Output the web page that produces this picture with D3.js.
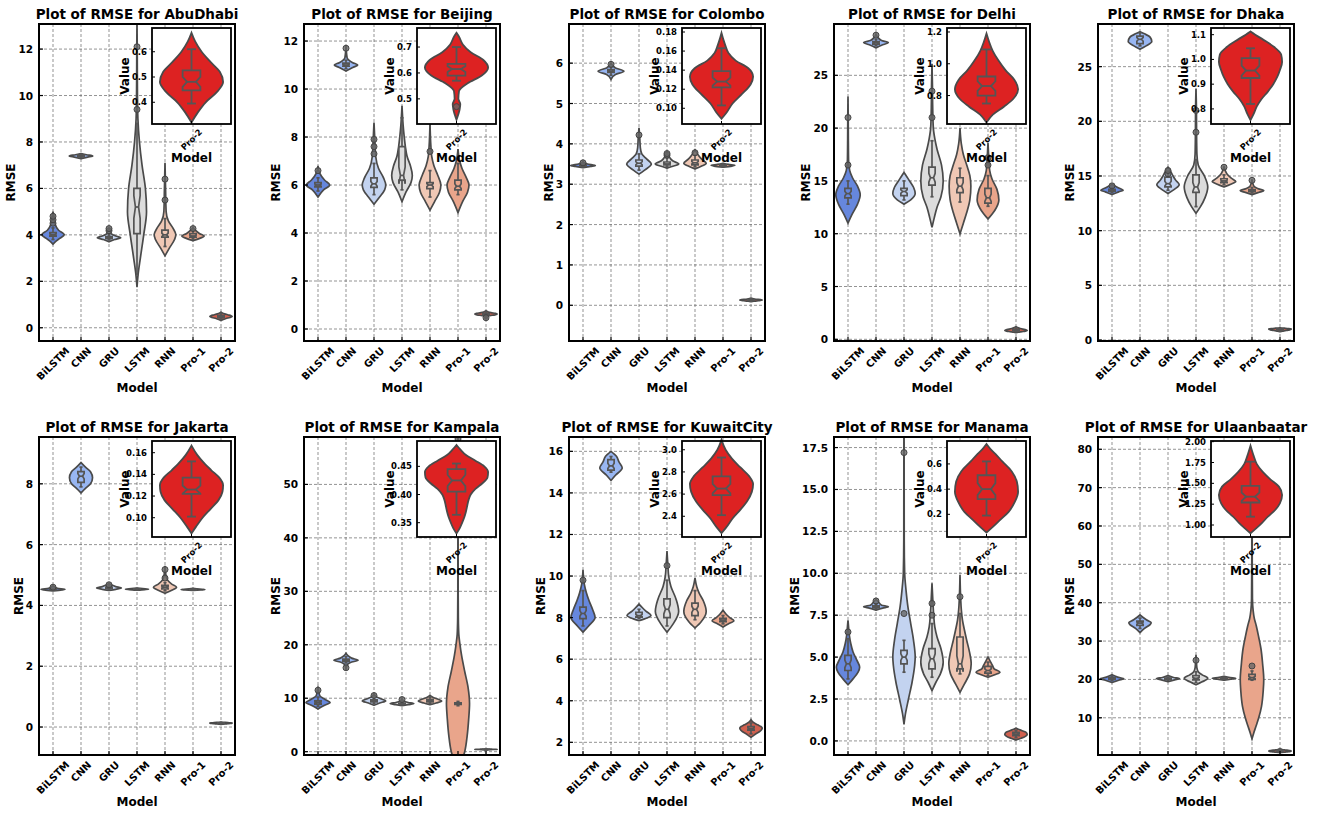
<!DOCTYPE html>
<html>
<head>
<meta charset="utf-8">
<script src="https://cdn.jsdelivr.net/npm/d3@7"></script>
<style>
  body { margin: 0; background: #fff; }
  text { font-family: "DejaVu Sans", sans-serif; font-weight: bold; fill: #000; }
</style>
</head>
<body>
<svg id="chart"></svg>
<script>
// values: d = [value, relative density], box = [lo, q1, med, q3, hi]
const models = ["BiLSTM", "CNN", "GRU", "LSTM", "RNN", "Pro-1", "Pro-2"];
const cities = ["AbuDhabi", "Beijing", "Colombo", "Delhi", "Dhaka",
                "Jakarta", "Kampala", "KuwaitCity", "Manama", "Ulaanbaatar"];
const colors = ["#6687dd", "#98b6f2", "#c3d3f0", "#dcdcdc", "#f0c8b5", "#e9a58b", "#d0604f"];

const yLimits = [[-0.57, 13.08], [-0.5, 12.71], [-0.885, 6.97], [-0.16, 29.86], [-0.09, 28.9],
                 [-0.92, 9.54], [-0.62, 58.87], [1.39, 16.69], [-0.84, 18.13], [0.3, 83.2]];
const yTickSteps = [2, 2, 1, 5, 5, 2, 10, 2, 2.5, 10];
const yFormats = ["d", "d", "d", "d", "d", "d", "d", "d", ".1f", "d"];

const insetLimits = [[0.314, 0.694], [0.403, 0.7735], [0.0835, 0.1842], [0.621, 1.225], [0.739, 1.127],
                     [0.0822, 0.1708], [0.3246, 0.495], [2.213, 3.079], [0.02, 0.782], [0.856, 2.008]];
const insetSteps = [0.1, 0.1, 0.02, 0.2, 0.1, 0.02, 0.05, 0.2, 0.2, 0.25];
const insetFormats = [".1f", ".1f", ".2f", ".1f", ".1f", ".2f", ".2f", ".1f", ".1f", ".2f"];

const abuDhabi = [
  {d: [[3.6,0],[3.7,.2],[3.85,.6],[4.0,1.0],[4.2,.5],[4.45,.2],[4.7,.12],[5.0,0]], box: [3.8,3.95,4.0,4.1,4.3], out: [4.5,4.65,4.8]},
  {d: [[7.28,0],[7.35,.6],[7.4,1.05],[7.45,.5],[7.5,0]], box: [7.33,7.37,7.4,7.43,7.47], out: []},
  {d: [[3.7,0],[3.8,.5],[3.88,1.05],[3.95,.6],[4.05,.2],[4.3,0]], box: [3.78,3.84,3.88,3.93,4.0], out: [4.18,4.27]},
  {d: [[1.75,0],[2.3,.1],[3,.3],[4,.6],[5,.85],[6,.75],[7,.45],[8,.22],[9,.08],[10,.04],[12,.02],[13.3,0]], box: [2.3,4.05,5.2,6.0,8.8], out: [9.4,12.1]},
  {d: [[3.1,0],[3.4,.35],[3.8,.85],[4.0,.97],[4.3,.7],[4.6,.3],[5,.1],[6,.05],[7.1,0]], box: [3.5,3.9,4.0,4.2,4.7], out: [5.5,6.4]},
  {d: [[3.75,0],[3.85,.6],[3.95,1.0],[4.05,.6],[4.2,.2],[4.32,0]], box: [3.82,3.9,3.95,4.05,4.2], out: [4.27]}
];
const beijing = [
  {d: [[5.5,0],[5.8,.5],[6.0,1.05],[6.2,.6],[6.5,.15],[6.8,0]], box: [5.75,5.92,6.0,6.1,6.3], out: [6.6]},
  {d: [[10.75,0],[10.9,.6],[11.0,1.05],[11.1,.6],[11.3,.1],[11.8,0]], box: [10.85,10.95,11.0,11.08,11.2], out: [11.7]},
  {d: [[5.2,0],[5.5,.5],[5.8,.95],[6.0,1.05],[6.3,.85],[6.7,.4],[7.2,.15],[7.8,.08],[8.6,0]], box: [5.6,5.9,6.05,6.3,6.9], out: [7.3,7.6,7.9]},
  {d: [[5.3,0],[5.7,.35],[6.1,.8],[6.4,.92],[6.8,.75],[7.2,.45],[7.6,.3],[8,.2],[8.5,.1],[9.3,0]], box: [5.8,6.2,6.4,7.6,8.8], out: []},
  {d: [[4.95,0],[5.3,.4],[5.7,.85],[6.0,.97],[6.4,.7],[6.8,.35],[7.2,.15],[7.6,.08],[8.6,0]], box: [5.5,5.85,6.0,6.1,6.6], out: [7.4]},
  {d: [[4.85,0],[5.3,.4],[5.7,.85],[6.0,.98],[6.3,.75],[6.7,.35],[7.0,.15],[7.5,0]], box: [5.6,5.8,5.95,6.2,6.9], out: []}
];
const colombo = [
  {d: [[3.41,0],[3.44,.7],[3.46,1.1],[3.5,.4],[3.56,0]], box: [3.43,3.45,3.46,3.48,3.5], out: [3.53]},
  {d: [[5.6,0],[5.72,.4],[5.8,1.15],[5.88,.4],[6.0,0]], box: [5.7,5.77,5.8,5.84,5.9], out: [5.97]},
  {d: [[3.25,0],[3.35,.5],[3.5,1.1],[3.62,.7],[3.75,.25],[3.9,.12],[4.2,.06],[4.4,0]], box: [3.35,3.45,3.52,3.6,3.75], out: [4.22]},
  {d: [[3.4,0],[3.45,.6],[3.5,1.05],[3.58,.5],[3.7,.15],[3.82,0]], box: [3.44,3.48,3.5,3.55,3.65], out: [3.72,3.76]},
  {d: [[3.38,0],[3.45,.6],[3.52,1],[3.62,.6],[3.72,.3],[3.85,0]], box: [3.43,3.48,3.53,3.6,3.72], out: [3.78]},
  {d: [[3.42,0],[3.45,.8],[3.47,1.07],[3.49,.5],[3.52,0]], box: [3.44,3.455,3.465,3.48,3.5], out: []}
];
const delhi = [
  {d: [[11,0],[11.8,.35],[12.8,.85],[13.7,1.09],[14.5,.85],[15.3,.4],[16,.15],[17,.05],[19,.03],[21,.02],[23,0]], box: [12.8,13.4,13.8,14.3,15.0], out: [16.5,21]},
  {d: [[27.6,0],[27.85,.5],[28.1,1.1],[28.3,.5],[28.6,.15],[28.9,0]], box: [27.8,27.95,28.1,28.2,28.4], out: [28.8]},
  {d: [[12.8,0],[13.2,.6],[13.8,1.0],[14.4,.85],[15,.5],[15.4,.25],[15.8,0]], box: [13.2,13.6,14.0,14.3,15.0], out: []},
  {d: [[10.6,0],[11.5,.2],[12.5,.45],[13.5,.8],[15,1.0],[16.5,.85],[18,.45],[19,.25],[20,.12],[22,.06],[24,.04],[26.1,0]], box: [13.5,14.6,15.3,16.3,18.8], out: [21,23.5]},
  {d: [[10,0],[11,.3],[12,.6],[13.2,.88],[14.5,.97],[15.5,.88],[16.5,.6],[17.5,.3],[18.5,.12],[20,0]], box: [13.0,13.9,14.5,15.3,16.2], out: []},
  {d: [[11.4,0],[12.2,.6],[13.2,.97],[14.2,.8],[15.2,.35],[16,.15],[17,.08],[18.6,0]], box: [12.6,12.9,13.4,14.3,15.5], out: [16.5,17.2]}
];
const dhaka = [
  {d: [[13.3,0],[13.55,.6],[13.7,1.0],[13.9,.6],[14.25,0]], box: [13.5,13.62,13.7,13.78,13.95], out: [14.1]},
  {d: [[26.6,0],[26.9,.55],[27.3,1.05],[27.7,.9],[28.0,.4],[28.2,0]], box: [26.9,27.1,27.5,27.8,28.1], out: []},
  {d: [[13.4,0],[13.8,.6],[14.2,1.0],[14.6,.7],[15.0,.45],[15.4,.25],[15.8,0]], box: [13.7,14.0,14.3,14.9,15.4], out: [15.2,15.5]},
  {d: [[11.6,0],[12.2,.4],[13,.8],[14,1.05],[15,.75],[16,.2],[17,.08],[19,.05],[21,.04],[23,0]], box: [12.2,13.5,14.0,15.1,16.5], out: [19,21]},
  {d: [[14.0,0],[14.25,.6],[14.5,1.05],[14.8,.65],[15.2,.25],[15.9,0]], box: [14.2,14.4,14.55,14.75,15.1], out: [15.8]},
  {d: [[13.3,0],[13.5,.6],[13.65,1.05],[13.85,.5],[14.1,.15],[14.7,0]], box: [13.45,13.57,13.65,13.75,13.95], out: [14.6]}
];
const jakarta = [
  {d: [[4.48,0],[4.51,.8],[4.53,1.08],[4.56,.4],[4.62,.1],[4.65,0]], box: [4.5,4.515,4.525,4.54,4.56], out: [4.6]},
  {d: [[7.7,0],[7.85,.4],[8.0,.85],[8.2,1.03],[8.4,.85],[8.55,.4],[8.7,0]], box: [7.9,8.05,8.25,8.4,8.55], out: []},
  {d: [[4.49,0],[4.53,.6],[4.57,1.1],[4.62,.6],[4.67,.25],[4.72,0]], box: [4.52,4.55,4.57,4.6,4.64], out: [4.68]},
  {d: [[4.5,0],[4.52,.7],[4.535,1.03],[4.55,.5],[4.57,0]], box: [4.515,4.525,4.535,4.545,4.555], out: []},
  {d: [[4.4,0],[4.5,.6],[4.6,1.03],[4.7,.6],[4.85,.2],[5.0,.08],[5.3,0]], box: [4.48,4.54,4.6,4.66,4.75], out: [4.9,5.18]},
  {d: [[4.49,0],[4.51,.7],[4.52,1.07],[4.535,.6],[4.56,0]], box: [4.505,4.513,4.52,4.528,4.54], out: []}
];
const kampala = [
  {d: [[8.0,0],[8.6,.5],[9.2,1.08],[9.8,.6],[10.5,.15],[11.5,.06],[12,0]], box: [8.5,8.9,9.2,9.5,10.2], out: [11.5]},
  {d: [[15.3,0],[16.2,.1],[16.7,.4],[17.1,1.08],[17.5,.5],[18.0,.15],[18.4,0]], box: [16.6,16.9,17.1,17.3,17.8], out: [15.7]},
  {d: [[8.7,0],[9.1,.5],[9.5,1.05],[9.9,.6],[10.3,.2],[10.8,0]], box: [9.0,9.3,9.5,9.7,10.2], out: [10.5]},
  {d: [[8.6,0],[8.8,.55],[9.0,1.05],[9.2,.55],[9.5,.15],[9.9,0]], box: [8.75,8.9,9.0,9.1,9.4], out: [9.75]},
  {d: [[8.8,0],[9.1,.55],[9.5,1.05],[9.9,.6],[10.2,.25],[10.5,0]], box: [9.0,9.3,9.5,9.8,10.2], out: []},
  {d: [[-4,0],[-2,.3],[0,.6],[3,.82],[6,.95],[9,1.03],[12,.9],[15,.6],[18,.32],[20,.18],[22,.07],[25,.03],[30,.015],[40,.01],[50,.008],[58.7,0]], box: [8.6,8.85,9.0,9.15,9.4], out: [58.5]}
];
const kuwaitCity = [
  {d: [[7.3,0],[7.6,.5],[8.0,1.08],[8.4,.85],[8.8,.55],[9.2,.3],[9.6,.12],[10.3,0]], box: [7.6,7.95,8.2,8.5,9.3], out: [9.8]},
  {d: [[14.6,0],[14.85,.4],[15.2,1.0],[15.5,.7],[15.75,.5],[16.0,0]], box: [15.0,15.1,15.3,15.6,15.75], out: []},
  {d: [[7.85,0],[7.98,.7],[8.1,1.07],[8.3,.65],[8.45,.35],[8.65,0]], box: [7.95,8.02,8.1,8.25,8.4], out: []},
  {d: [[7.3,0],[7.7,.55],[8.3,1.04],[8.9,.8],[9.5,.35],[10,.15],[10.5,.08],[11.2,0]], box: [7.6,8.0,8.4,8.9,9.8], out: [10.5]},
  {d: [[7.5,0],[7.8,.55],[8.3,1.0],[8.8,.75],[9.2,.35],[9.5,.15],[9.9,0]], box: [7.9,8.1,8.4,8.7,9.3], out: []},
  {d: [[7.55,0],[7.7,.5],[7.85,.97],[8.0,.6],[8.15,.3],[8.35,0]], box: [7.7,7.8,7.88,7.97,8.1], out: []}
];
const manama = [
  {d: [[3.35,0],[3.7,.45],[4.1,.9],[4.4,1.04],[4.8,.8],[5.3,.45],[5.8,.25],[6.3,.12],[6.8,.05],[7.2,0]], box: [3.7,4.2,4.6,5.1,6.1], out: [6.5]},
  {d: [[7.8,0],[7.92,.6],[8.0,1.1],[8.1,.5],[8.3,.2],[8.45,0]], box: [7.88,7.95,8.0,8.06,8.15], out: [8.35]},
  {d: [[1.0,0],[1.5,.1],[2.5,.4],[3.5,.72],[4.5,.95],[5,1],[6,.85],[7,.6],[8,.35],[9,.18],[10,.06],[12,.02],[15,.015],[18,.01],[19.5,0]], box: [4.1,4.6,5.0,5.4,6.0], out: [7.6,17.2]},
  {d: [[3,0],[3.5,.35],[4,.75],[4.7,1],[5.5,.8],[6.2,.45],[6.8,.25],[7.5,.15],[8.3,.08],[9.4,0]], box: [3.8,4.3,4.9,5.5,7.0], out: [7.5,8.2]},
  {d: [[2.9,0],[3.4,.4],[4,.85],[4.6,1],[5.3,.85],[6,.6],[6.6,.4],[7.2,.22],[7.8,.12],[8.5,.06],[9.9,0]], box: [4.0,4.3,4.6,6.2,7.6], out: [8.6]},
  {d: [[3.8,0],[3.95,.6],[4.1,1.07],[4.3,.55],[4.5,.4],[4.75,.2],[5.0,0]], box: [3.9,4.05,4.2,4.45,4.7], out: []}
];
const ulaanbaatar = [
  {d: [[19.2,0],[19.8,.6],[20.2,1.05],[20.6,.5],[21.2,0]], box: [19.7,20.0,20.2,20.4,20.7], out: []},
  {d: [[32.2,0],[33.3,.4],[34.3,.9],[34.8,1],[35.5,.6],[36.2,.25],[36.8,0]], box: [33.3,34.1,34.7,35.2,36.0], out: []},
  {d: [[19.4,0],[19.9,.6],[20.2,1.03],[20.5,.5],[21,0]], box: [19.8,20.0,20.2,20.35,20.6], out: []},
  {d: [[18.6,0],[19.3,.5],[20.3,1.05],[21.2,.55],[22,.2],[23,.08],[24.5,.04],[26.4,0]], box: [19.2,19.9,20.3,21.0,22.0], out: [25]},
  {d: [[19.8,0],[20.1,.6],[20.3,1.05],[20.5,.55],[20.8,0]], box: [20.0,20.15,20.3,20.4,20.6], out: []},
  {d: [[4.5,0],[6,.15],[8,.38],[10,.6],[13,.85],[17,1.0],[20,1.05],[24,.95],[28,.8],[31,.6],[34,.38],[36,.2],[38,.1],[41,.04],[50,.02],[60,.015],[70,.01],[82.5,0]], box: [19.8,20,20.5,21.3,22.2], out: [23.5]}
];

// Pro-2 per city (shown in the main panel and zoomed in the inset)
const pro2 = [
  {d: [[.32,0],[.36,.2],[.40,.45],[.44,.8],[.48,1],[.52,.9],[.56,.6],[.60,.32],[.64,.12],[.675,0]], box: [.395,.447,.481,.526,.61], out: []},
  {d: [[.42,0],[.46,.1],[.48,.12],[.50,.06],[.53,.08],[.56,.35],[.59,.8],[.62,1],[.65,.85],[.68,.45],[.71,.2],[.74,.08],[.755,0]], box: [.57,.59,.615,.635,.70], out: [.47]},
  {d: [[.089,0],[.095,.15],[.105,.35],[.115,.65],[.125,.92],[.133,1],[.142,.85],[.150,.45],[.158,.22],[.166,.12],[.172,.06],[.179,0]], box: [.103,.122,.128,.139,.163], out: []},
  {d: [[.63,0],[.68,.2],[.73,.55],[.78,.85],[.84,1],[.90,.88],[.96,.6],[1.02,.38],[1.08,.2],[1.14,.08],[1.19,0]], box: [.75,.80,.86,.92,1.09], out: []},
  {d: [[.755,0],[.78,.1],[.81,.2],[.84,.35],[.87,.55],[.90,.72],[.93,.85],[.96,.94],[.99,1],[1.02,.97],[1.05,.75],[1.08,.4],[1.10,.15],[1.113,0]], box: [.82,.925,.955,1.005,1.045], out: []},
  {d: [[.0855,0],[.092,.15],[.10,.35],[.108,.6],[.116,.85],[.124,.98],[.130,1],[.137,.88],[.144,.62],[.151,.38],[.158,.18],[.1665,0]], box: [.101,.122,.126,.137,.152], out: []},
  {d: [[.331,0],[.34,.1],[.35,.18],[.36,.25],[.37,.3],[.38,.34],[.39,.38],[.40,.45],[.41,.6],[.42,.82],[.43,.98],[.44,1],[.45,.88],[.46,.6],[.47,.3],[.48,.12],[.488,0]], box: [.364,.405,.425,.445,.455], out: []},
  {d: [[2.248,0],[2.30,.15],[2.38,.35],[2.46,.6],[2.54,.82],[2.62,.96],[2.69,1],[2.76,.88],[2.84,.6],[2.92,.33],[3.0,.13],[3.089,0]], box: [2.41,2.59,2.65,2.76,2.93], out: []},
  {d: [[.055,0],[.1,.2],[.16,.45],[.22,.7],[.3,.9],[.38,1],[.46,.96],[.54,.8],[.62,.5],[.68,.28],[.72,.12],[.758,0]], box: [.19,.32,.40,.51,.62], out: []},
  {d: [[.90,0],[.95,.15],[1.02,.35],[1.10,.55],[1.18,.78],[1.26,.93],[1.36,1],[1.46,.9],[1.55,.62],[1.64,.38],[1.73,.2],[1.83,.1],[1.952,0]], box: [1.10,1.27,1.34,1.47,1.76], out: []}
];

const cityData = [abuDhabi, beijing, colombo, delhi, dhaka, jakarta, kampala, kuwaitCity, manama, ulaanbaatar];

const W = 1320, H = 813;
const svg = d3.select("#chart").attr("width", W).attr("height", H);
svg.append("rect").attr("width", W).attr("height", H).attr("fill", "#fff");

const colLeft = [39, 304, 569, 834, 1098];
const rowTop = [24, 437], rowBottom = [341, 755];
const axW = 196;

function stepTicks(lo, hi, step) {
  return d3.range(Math.ceil(lo / step - 1e-9), Math.floor(hi / step + 1e-9) + 1).map(k => +(k * step).toFixed(6));
}

function rotLabel(g, txt, x, top, size) {
  const t = g.append("text").text(txt)
    .attr("font-size", size)
    .attr("text-anchor", "middle")
    .attr("dominant-baseline", "central");
  const w = t.node().getComputedTextLength();
  const h = (w + size * 0.85) * Math.SQRT1_2;
  t.attr("transform", `translate(${x},${top + h / 2}) rotate(-45)`);
}

// one violin with notched box, whiskers and fliers
function drawViolin(g, v, cx, y, hw, bw, fill, lw) {
  const area = d3.area()
    .y(d => y(d[0]))
    .x0(d => cx - d[1] * hw)
    .x1(d => cx + d[1] * hw)
    .curve(d3.curveMonotoneY);
  g.append("path").attr("d", area(v.d))
    .attr("fill", fill).attr("stroke", "#4a4a4a").attr("stroke-width", lw);

  const [lo, q1, med, q3, hi] = v.box;
  const n = 0.25 * (q3 - q1);
  const pts = [
    [cx - bw, q1], [cx - bw, med - n], [cx - bw / 2, med], [cx - bw, med + n], [cx - bw, q3],
    [cx + bw, q3], [cx + bw, med + n], [cx + bw / 2, med], [cx + bw, med - n], [cx + bw, q1]
  ];
  g.append("path")
    .attr("d", d3.line().x(p => p[0]).y(p => y(p[1]))(pts) + "Z")
    .attr("fill", "none").attr("stroke", "#555").attr("stroke-width", lw);
  const segs = [
    [cx - bw / 2, med, cx + bw / 2, med],
    [cx, q3, cx, hi], [cx, q1, cx, lo],
    [cx - bw / 2, hi, cx + bw / 2, hi], [cx - bw / 2, lo, cx + bw / 2, lo]
  ];
  g.selectAll(null).data(segs).enter().append("line")
    .attr("x1", s => s[0]).attr("y1", s => y(s[1]))
    .attr("x2", s => s[2]).attr("y2", s => y(s[3]))
    .attr("stroke", "#555").attr("stroke-width", lw);
  g.selectAll(null).data(v.out).enter().append("circle")
    .attr("cx", cx).attr("cy", o => y(o)).attr("r", 3)
    .attr("fill", "#666").attr("fill-opacity", 0.8)
    .attr("stroke", "#444").attr("stroke-width", 1);
}

cities.forEach((city, i) => {
  const r = Math.floor(i / 5), c = i % 5;
  const left = colLeft[c], right = left + axW;
  const top = rowTop[r], bottom = rowBottom[r];
  const g = svg.append("g");

  const x = d3.scaleBand().domain(models).range([left, right]);
  const y = d3.scaleLinear().domain(yLimits[i]).range([bottom, top]);
  const ticks = stepTicks(yLimits[i][0], yLimits[i][1], yTickSteps[i]);
  const fmt = d3.format(yFormats[i]);
  const violins = cityData[i].concat([pro2[i]]);

  // grid
  g.selectAll(null).data(ticks).enter().append("line")
    .attr("x1", left).attr("x2", right)
    .attr("y1", d => y(d)).attr("y2", d => y(d))
    .attr("stroke", "#666").attr("stroke-width", 0.7).attr("stroke-dasharray", "3,2");
  g.selectAll(null).data(models).enter().append("line")
    .attr("x1", m => x(m) + x.bandwidth() / 2).attr("x2", m => x(m) + x.bandwidth() / 2)
    .attr("y1", top).attr("y2", bottom)
    .attr("stroke", "#666").attr("stroke-width", 0.7).attr("stroke-dasharray", "3,2");

  const clipId = "clip" + i;
  svg.append("clipPath").attr("id", clipId).append("rect")
    .attr("x", left).attr("y", top).attr("width", axW).attr("height", bottom - top);
  const vg = g.append("g").attr("clip-path", `url(#${clipId})`);
  violins.forEach((v, k) => {
    const cx = x(models[k]) + x.bandwidth() / 2;
    drawViolin(vg, v, cx, y, x.bandwidth() * 0.4, x.bandwidth() * 0.1125, colors[k], 1.7);
  });

  // spines and inward ticks
  g.append("rect").attr("x", left).attr("y", top).attr("width", axW).attr("height", bottom - top)
    .attr("fill", "none").attr("stroke", "#000").attr("stroke-width", 2);
  g.selectAll(null).data(ticks).enter().append("line")
    .attr("x1", left).attr("x2", left + 4).attr("y1", d => y(d)).attr("y2", d => y(d))
    .attr("stroke", "#000").attr("stroke-width", 1.2);
  g.selectAll(null).data(models).enter().append("line")
    .attr("x1", m => x(m) + x.bandwidth() / 2).attr("x2", m => x(m) + x.bandwidth() / 2)
    .attr("y1", bottom).attr("y2", bottom - 4)
    .attr("stroke", "#000").attr("stroke-width", 1.2);

  // tick labels
  let maxW = 0;
  ticks.forEach(t => {
    const el = g.append("text").text(fmt(t))
      .attr("x", left - 6).attr("y", y(t))
      .attr("font-size", 10.5).attr("text-anchor", "end").attr("dominant-baseline", "central");
    maxW = Math.max(maxW, el.node().getComputedTextLength());
  });
  models.forEach(m => rotLabel(g, m, x(m) + x.bandwidth() / 2, bottom + 5, 10));

  // titles and axis labels
  g.append("text").text("Plot of RMSE for " + city)
    .attr("x", (left + right) / 2).attr("y", top - 5)
    .attr("font-size", 13.5).attr("text-anchor", "middle");
  g.append("text").text("Model")
    .attr("x", (left + right) / 2).attr("y", bottom + 47)
    .attr("font-size", 12).attr("text-anchor", "middle").attr("dominant-baseline", "central");
  const lx = left - 6 - maxW - 7;
  g.append("text").text("RMSE")
    .attr("transform", `translate(${lx},${(top + bottom) / 2}) rotate(-90)`)
    .attr("font-size", 12).attr("text-anchor", "middle").attr("dominant-baseline", "central");

  // inset with Pro-2 only
  const iRight = right - 4, iLeft = iRight - 79, iTop = top + 4, iBottom = iTop + 96;
  const ig = svg.append("g");
  const ix = d3.scaleBand().domain(["Pro-2"]).range([iLeft, iRight]);
  const iy = d3.scaleLinear().domain(insetLimits[i]).range([iBottom, iTop]);
  const iTicks = stepTicks(insetLimits[i][0], insetLimits[i][1], insetSteps[i]);
  const ifmt = d3.format(insetFormats[i]);
  ig.append("rect").attr("x", iLeft).attr("y", iTop).attr("width", iRight - iLeft).attr("height", iBottom - iTop)
    .attr("fill", "#fff");
  const icx = iLeft + ix.bandwidth() / 2;
  drawViolin(ig, pro2[i], icx, iy, ix.bandwidth() * 0.4, ix.bandwidth() * 0.1125, "#dd2222", 1.8);
  ig.append("rect").attr("x", iLeft).attr("y", iTop).attr("width", iRight - iLeft).attr("height", iBottom - iTop)
    .attr("fill", "none").attr("stroke", "#000").attr("stroke-width", 1.8);
  ig.selectAll(null).data(iTicks).enter().append("line")
    .attr("x1", iLeft).attr("x2", iLeft + 3).attr("y1", d => iy(d)).attr("y2", d => iy(d))
    .attr("stroke", "#000").attr("stroke-width", 1);
  ig.append("line").attr("x1", icx).attr("x2", icx).attr("y1", iBottom).attr("y2", iBottom - 3)
    .attr("stroke", "#000").attr("stroke-width", 1);
  ig.selectAll(null).data(iTicks).enter().append("text")
    .text(d => ifmt(d))
    .attr("x", iLeft - 5).attr("y", d => iy(d))
    .attr("font-size", 8.5).attr("text-anchor", "end").attr("dominant-baseline", "central");
  rotLabel(ig, "Pro-2", icx, iBottom + 4, 8.5);
  ig.append("text").text("Model")
    .attr("x", icx).attr("y", iBottom + 34)
    .attr("font-size", 12).attr("text-anchor", "middle").attr("dominant-baseline", "central");
  ig.append("text").text("Value")
    .attr("transform", `translate(${iLeft - 27},${(iTop + iBottom) / 2}) rotate(-90)`)
    .attr("font-size", 12).attr("text-anchor", "middle").attr("dominant-baseline", "central");
});
</script>
</body>
</html>
